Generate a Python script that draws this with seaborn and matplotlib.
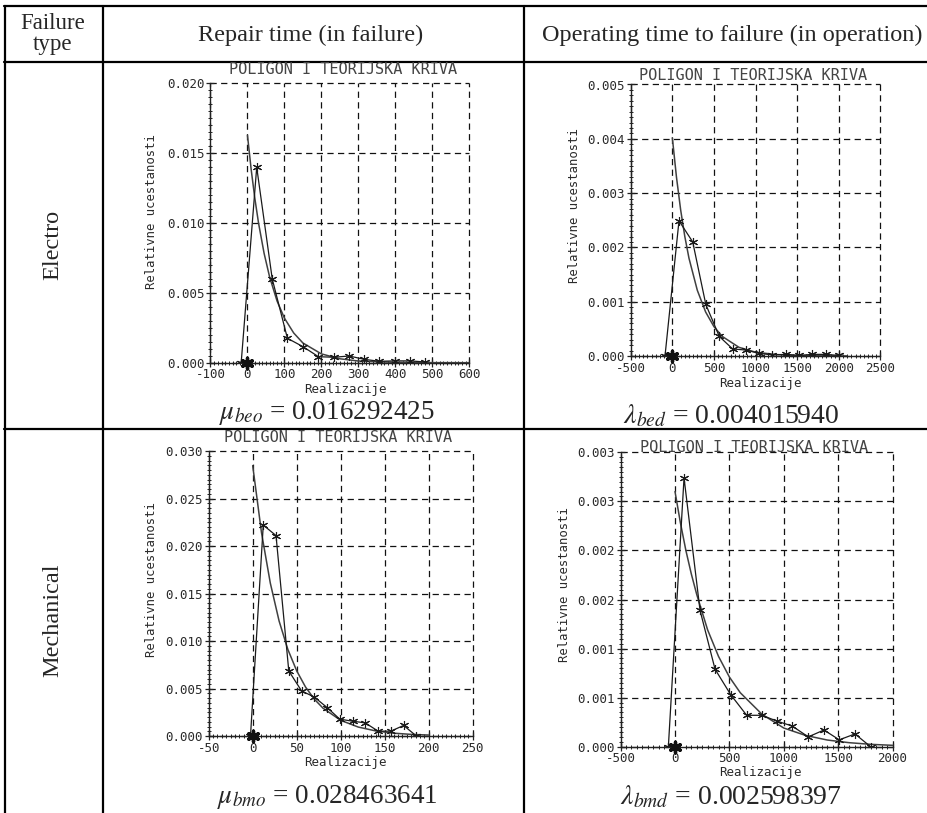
import matplotlib
matplotlib.use("Agg")
import matplotlib.pyplot as plt
from matplotlib.lines import Line2D
from matplotlib.ticker import AutoMinorLocator, FixedLocator, FixedFormatter
import numpy as np
import pandas as pd
import seaborn as sns

# ---------------- data ----------------
# Electro - repair time
e_rep_poly_x = [-17, 25, 67, 108, 150, 192, 234, 275, 316, 357, 398, 440, 481]
e_rep_poly_y = [0, 0.0140, 0.0060, 0.00175, 0.00115, 0.00043, 0.00039, 0.00048,
                0.00024, 0.00010, 0.00013, 0.00013, 0.00005]
e_rep_curve_x = [0, 10, 20, 30, 45, 60, 80, 100, 125, 150, 200, 250, 300, 400, 500, 600]
e_rep_curve_y = [0.01629, 0.01384, 0.01176, 0.00999, 0.00783, 0.00613, 0.00442, 0.00319,
                 0.00213, 0.00141, 0.00063, 0.00028, 0.00012, 0.000024, 0.000005, 0.000001]
# Electro - operating time
e_op_poly_x = [-88, 80, 245, 402, 564, 724, 880, 1040, 1200, 1364, 1524, 1680, 1840, 2003]
e_op_poly_y = [0, 0.00249, 0.00210, 0.00095, 0.00036, 0.00013, 0.00011, 0.00005,
               0.00002, 0.00003, 0.00001, 0.00003, 0.00003, 0.00001]
e_op_curve_x = [0, 50, 100, 150, 200, 300, 400, 500, 600, 800, 1000, 1250, 1500, 1800, 2100]
e_op_curve_y = [0.00402, 0.00329, 0.00269, 0.00220, 0.00180, 0.00121, 0.00081, 0.00054,
                0.00036, 0.00016, 0.00007, 0.000026, 0.00001, 0.000003, 0.000001]
# Mechanical - repair time
m_rep_poly_x = [-2.5, 12, 26.5, 41, 55.5, 70, 84.5, 99, 113.5, 128, 142.5, 157, 171.5, 186]
m_rep_poly_y = [0, 0.0222, 0.0211, 0.00685, 0.00475, 0.0041, 0.0030, 0.00177, 0.00156,
                0.00138, 0.00051, 0.00051, 0.00111, 0.0]
m_rep_curve_x = [0, 10, 20, 30, 40, 50, 60, 70, 80, 100, 120, 140, 160, 180, 200]
m_rep_curve_y = [0.02846, 0.0214, 0.0161, 0.0121, 0.0091, 0.00686, 0.00516, 0.00388,
                 0.00292, 0.00165, 0.00094, 0.00053, 0.0003, 0.00017, 0.0001]
# Mechanical - operating time
m_op_poly_x = [-61, 83, 230, 368, 512, 659, 797, 940, 1078, 1225, 1369, 1510, 1654, 1798]
m_op_poly_y = [0, 0.00274, 0.00139, 0.00079, 0.00053, 0.00032, 0.00032, 0.00026, 0.00021,
               0.00010, 0.00017, 0.00007, 0.00013, 0.0]
m_op_curve_x = [0, 50, 100, 150, 200, 300, 400, 500, 600, 800, 1000, 1200, 1400, 1600, 1800, 2000]
m_op_curve_y = [0.00260, 0.00228, 0.00200, 0.00176, 0.00155, 0.00119, 0.00092, 0.00071,
                0.00055, 0.00033, 0.00019, 0.000115, 0.000068, 0.000041, 0.000024, 0.000014]

# tick values / labels
p1_xticks = [-100, 0, 100, 200, 300, 400, 500, 600]
p1_yticks = [0.0, 0.005, 0.010, 0.015, 0.020]
p1_ylabels = ["0.000", "0.005", "0.010", "0.015", "0.020"]
p2_xticks = [-500, 0, 500, 1000, 1500, 2000, 2500]
p2_yticks = [0.0, 0.001, 0.002, 0.003, 0.004, 0.005]
p2_ylabels = ["0.000", "0.001", "0.002", "0.003", "0.004", "0.005"]
p3_xticks = [-50, 0, 50, 100, 150, 200, 250]
p3_yticks = [0.0, 0.005, 0.010, 0.015, 0.020, 0.025, 0.030]
p3_ylabels = ["0.000", "0.005", "0.010", "0.015", "0.020", "0.025", "0.030"]
p4_xticks = [-500, 0, 500, 1000, 1500, 2000]
p4_yticks = [0.0, 0.0005, 0.001, 0.0015, 0.002, 0.0025, 0.003]
p4_ylabels = ["0.000", "0.001", "0.001", "0.002", "0.002", "0.003", "0.003"]

row_labels = ["Electro", "Mechanical"]
col_headers = ["Failure\ntype", "Repair time (in failure)", "Operating time to failure (in operation)"]
formulas = [r"$\mu_{beo}$ = 0.016292425", r"$\lambda_{bed}$ = 0.004015940",
            r"$\mu_{bmo}$ = 0.028463641", r"$\lambda_{bmd}$ = 0.002598397"]
plot_title = "POLIGON I TEORIJSKA KRIVA"
xlab = "Realizacije"
ylab = "Relativne ucestanosti"

# ---------------- style ----------------
sns.set_style("ticks")
plt.rcParams["font.family"] = ["DejaVu Sans Mono"]
plt.rcParams["axes.unicode_minus"] = False
plt.rcParams["mathtext.fontset"] = "stix"

W, H = 928, 813
fig = plt.figure(figsize=(W / 100, H / 100), dpi=100)
fig.patch.set_facecolor("white")

def fx(px):
    return px / W

def fy(py):
    return 1 - py / H

MONO = "DejaVu Sans Mono"
SERIF = "Liberation Serif"
TXT = "#2a2a2a"

def make_axes(box, poly_x, poly_y, cx, cy, xticks, yticks, ylabels,
              title_xy, xlabel_xy, ylabel_xy):
    x0, y0, x1, y1 = box  # pixel box: left, top, right, bottom
    ax = fig.add_axes([fx(x0), fy(y1), fx(x1) - fx(x0), fy(y0) - fy(y1)])
    dfp = pd.DataFrame({"x": poly_x, "y": poly_y})
    dfc = pd.DataFrame({"x": cx, "y": cy})
    sns.lineplot(data=dfc, x="x", y="y", ax=ax, color="#404040", linewidth=1.1,
                 sort=False, estimator=None)
    sns.lineplot(data=dfp, x="x", y="y", ax=ax, color="#1a1a1a", linewidth=0.9,
                 sort=False, estimator=None, marker=(6, 2, 0), markersize=6.5,
                 markeredgewidth=0.8, markeredgecolor="#1a1a1a")
    sns.scatterplot(x=[0], y=[0], ax=ax, marker=(6, 2, 0), s=60, linewidth=2.4,
                    color="#111111", zorder=5, clip_on=False)
    ax.set_xlim(xticks[0], xticks[-1])
    ax.set_ylim(yticks[0], yticks[-1])
    ax.xaxis.set_major_locator(FixedLocator(xticks))
    ax.yaxis.set_major_locator(FixedLocator(yticks))
    ax.yaxis.set_major_formatter(FixedFormatter(ylabels))
    ax.set_xticklabels([str(int(v)) for v in xticks])
    ax.xaxis.set_minor_locator(AutoMinorLocator(10))
    ax.yaxis.set_minor_locator(AutoMinorLocator(10))
    ax.tick_params(axis="both", which="major", direction="inout", length=6,
                   width=0.9, color="#222222", labelsize=9, labelcolor=TXT, pad=1)
    ax.tick_params(axis="both", which="minor", direction="inout", length=3.5,
                   width=0.7, color="#222222")
    for s in ["top", "right"]:
        ax.spines[s].set_visible(False)
    for s in ["left", "bottom"]:
        ax.spines[s].set_linewidth(1.0)
        ax.spines[s].set_color("#222222")
    ax.grid(True, which="major", color="#111111", linestyle=(0, (5, 3.5)),
            linewidth=0.9)
    for gl in ax.get_xgridlines() + ax.get_ygridlines():
        gl.set_clip_on(False)
    ax.set_axisbelow(True)
    ax.set_xlabel("")
    ax.set_ylabel("")
    ax.set_facecolor("none")
    fig.text(fx(title_xy[0]), fy(title_xy[1]), plot_title, ha="center", va="center",
             fontsize=11, family=MONO, color="#444444")
    fig.text(fx(xlabel_xy[0]), fy(xlabel_xy[1]), xlab, ha="center", va="center",
             fontsize=9, family=MONO, color=TXT)
    fig.text(fx(ylabel_xy[0]), fy(ylabel_xy[1]), ylab, ha="center", va="center",
             fontsize=8.8, family=MONO, color=TXT, rotation=90)
    return ax

# plot 1: Electro repair
make_axes((210.5, 83.5, 469.3, 362.7), e_rep_poly_x, e_rep_poly_y, e_rep_curve_x,
          e_rep_curve_y, p1_xticks, p1_yticks, p1_ylabels,
          (343, 70), (345, 389), (152, 212))
# plot 2: Electro operation
make_axes((630.7, 84.5, 880.5, 356), e_op_poly_x, e_op_poly_y, e_op_curve_x,
          e_op_curve_y, p2_xticks, p2_yticks, p2_ylabels,
          (753, 75), (760, 383), (575, 206))
# plot 3: Mechanical repair
make_axes((208.7, 451, 472.7, 736), m_rep_poly_x, m_rep_poly_y, m_rep_curve_x,
          m_rep_curve_y, p3_xticks, p3_yticks, p3_ylabels,
          (338, 437), (345, 762), (152, 580))
# plot 4: Mechanical operation
make_axes((620.6, 452.3, 892.6, 746.7), m_op_poly_x, m_op_poly_y, m_op_curve_x,
          m_op_curve_y, p4_xticks, p4_yticks, p4_ylabels,
          (754, 447), (760, 772), (565, 585))

# ---------------- table frame ----------------
def hline(y, x0=4, x1=W):
    fig.add_artist(Line2D([fx(x0), fx(x1)], [fy(y), fy(y)], color="black", lw=1.6))

def vline(x, y0=6.5, y1=H):
    fig.add_artist(Line2D([fx(x), fx(x)], [fy(y0), fy(y1)], color="black", lw=1.6))

hline(6.5)
hline(61.7)
hline(429)
vline(4.5)
vline(103.5)
vline(524)

fig.text(fx(53), fy(34), col_headers[0], ha="center", va="center", fontsize=16.5,
         family=SERIF, linespacing=0.95)
fig.text(fx(311), fy(35), col_headers[1], ha="center", va="center", fontsize=17.5,
         family=SERIF)
fig.text(fx(732), fy(35), col_headers[2], ha="center", va="center", fontsize=17.5,
         family=SERIF)
fig.text(fx(53), fy(245), row_labels[0], ha="center", va="center", fontsize=17.5,
         family=SERIF, rotation=90)
fig.text(fx(53), fy(620), row_labels[1], ha="center", va="center", fontsize=17.5,
         family=SERIF, rotation=90)

fig.text(fx(327), fy(413), formulas[0], ha="center", va="center", fontsize=19.5, family=SERIF)
fig.text(fx(731), fy(416), formulas[1], ha="center", va="center", fontsize=20, family=SERIF)
fig.text(fx(327), fy(797), formulas[2], ha="center", va="center", fontsize=19.5, family=SERIF)
fig.text(fx(731), fy(797), formulas[3], ha="center", va="center", fontsize=20, family=SERIF)

fig.savefig("out.png", dpi=100, facecolor="white")
